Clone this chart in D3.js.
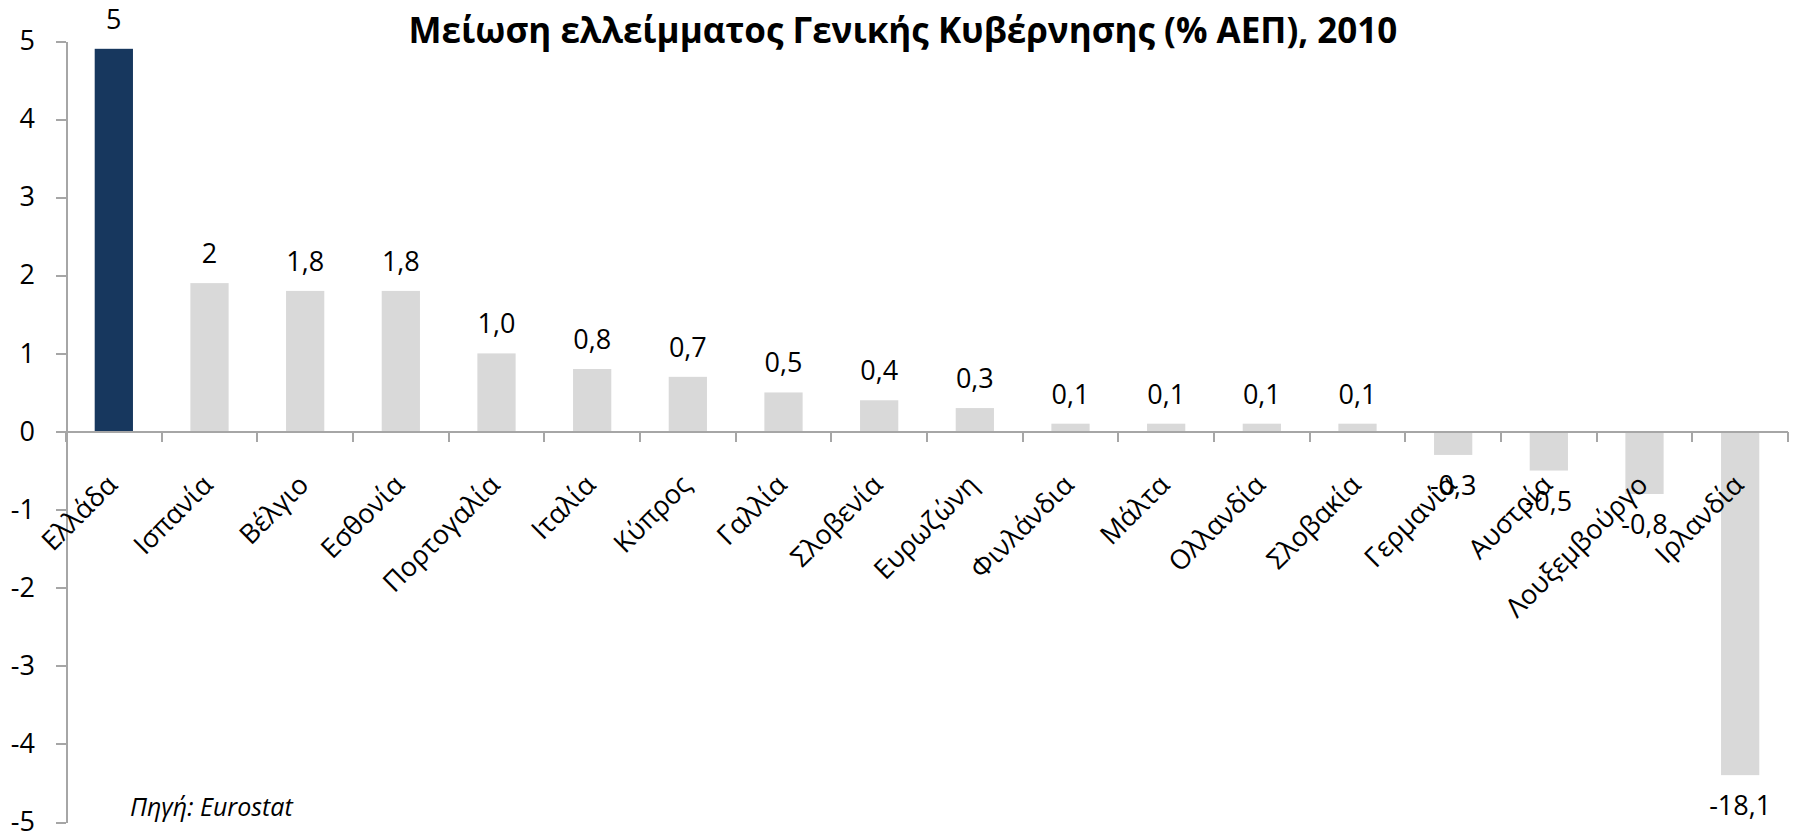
<!DOCTYPE html>
<html>
<head>
<meta charset="utf-8">
<script src="https://cdn.jsdelivr.net/npm/d3@7"></script>
<style>
  html, body { margin: 0; padding: 0; background: #fff; }
  svg { display: block; font-family: 'Open Sans', 'Noto Sans', sans-serif; }
  .axis path, .axis line { stroke: #a6a6a6; stroke-width: 2; shape-rendering: crispEdges; }
  .axis text { font-family: 'Open Sans', 'Noto Sans', sans-serif; font-size: 27px; fill: #000; }
</style>
</head>
<body>
<div id="chart"></div>
<script>
// Data
const countries = ['Ελλάδα', 'Ισπανία', 'Βέλγιο', 'Εσθονία', 'Πορτογαλία', 'Ιταλία', 'Κύπρος',
  'Γαλλία', 'Σλοβενία', 'Ευρωζώνη', 'Φινλάνδια', 'Μάλτα', 'Ολλανδία', 'Σλοβακία',
  'Γερμανία', 'Αυστρία', 'Λουξεμβούργο', 'Ιρλανδία'];
// plotted bar heights (Ireland is cut short on the chart)
const values = [4.9, 1.9, 1.8, 1.8, 1.0, 0.8, 0.7, 0.5, 0.4, 0.3, 0.1, 0.1, 0.1, 0.1, -0.3, -0.5, -0.8, -4.4];
// labels shown above / below the bars
const valueLabels = ['5', '2', '1,8', '1,8', '1,0', '0,8', '0,7', '0,5', '0,4', '0,3', '0,1', '0,1', '0,1', '0,1',
  '-0,3', '-0,5', '-0,8', '-18,1'];
const highlighted = ['Ελλάδα'];
const yTicks = [-5, -4, -3, -2, -1, 0, 1, 2, 3, 4, 5];
const title = 'Μείωση ελλείμματος Γενικής Κυβέρνησης (% ΑΕΠ), 2010';
const source = 'Πηγή: Eurostat';

const width = 1796, height = 832;
const margin = { top: 41, right: 8, bottom: 10, left: 66 };
const innerW = width - margin.left - margin.right;
const innerH = height - margin.top - margin.bottom;

const svg = d3.select('#chart')
  .append('svg')
  .attr('width', width)
  .attr('height', height);

const g = svg.append('g')
  .attr('transform', 'translate(' + margin.left + ',' + margin.top + ')');

const x = d3.scaleBand().domain(countries).range([0, innerW]).paddingInner(0.6).paddingOuter(0.3);
const y = d3.scaleLinear().domain([-5, 5]).range([innerH, 0]);

// Y axis
g.append('g')
  .attr('class', 'axis')
  .call(d3.axisLeft(y).tickValues(yTicks).tickSize(10).tickSizeOuter(0).tickPadding(21))
  .selectAll('text').text((d) => String(d));

// Bars
g.selectAll('rect.bar')
  .data(values)
  .enter()
  .append('rect')
  .attr('class', 'bar')
  .attr('x', (d, i) => x(countries[i]))
  .attr('width', x.bandwidth())
  .attr('y', (d) => y(Math.max(0, d)))
  .attr('height', (d) => Math.abs(y(d) - y(0)))
  .attr('fill', (d, i) => highlighted.includes(countries[i]) ? '#17375e' : '#d9d9d9');

// X axis at zero, ticks between categories
const xAxis = g.append('g').attr('class', 'axis');
xAxis.append('line')
  .attr('x1', 0).attr('x2', innerW)
  .attr('y1', y(0)).attr('y2', y(0));
const bounds = countries.map((c) => x(c) + x.bandwidth() / 2 - x.step() / 2).concat([innerW]);
xAxis.selectAll('line.tick')
  .data(bounds)
  .enter()
  .append('line')
  .attr('class', 'tick')
  .attr('x1', (d) => d).attr('x2', (d) => d)
  .attr('y1', y(0)).attr('y2', y(0) + 10);

// Category labels, rotated 45 degrees
g.selectAll('text.cat')
  .data(countries)
  .enter()
  .append('text')
  .attr('class', 'cat')
  .attr('text-anchor', 'end')
  .attr('font-size', 27)
  .attr('transform', (d) => 'translate(' + (x(d) + x.bandwidth() / 2 + 5) + ',' + (y(0) + 55) + ') rotate(-45)')
  .text((d) => d);

// Value labels
g.selectAll('text.val')
  .data(values)
  .enter()
  .append('text')
  .attr('class', 'val')
  .attr('text-anchor', 'middle')
  .attr('font-size', 27)
  .attr('x', (d, i) => x(countries[i]) + x.bandwidth() / 2)
  .attr('y', (d) => d >= 0 ? y(d) - 20 : y(d) + 40)
  .text((d, i) => valueLabels[i]);

// Title
svg.append('text')
  .attr('x', 903)
  .attr('y', 43)
  .attr('text-anchor', 'middle')
  .attr('font-size', 35)
  .attr('font-weight', 'bold')
  .text(title);

// Source note
svg.append('text')
  .attr('x', 130)
  .attr('y', 816)
  .attr('font-size', 25)
  .attr('font-style', 'italic')
  .text(source);
</script>
</body>
</html>
